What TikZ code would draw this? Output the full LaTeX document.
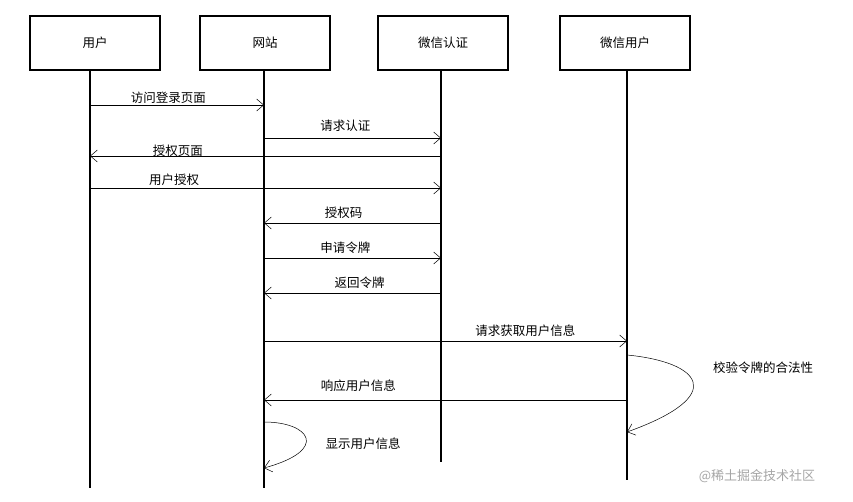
\documentclass[tikz,border=0pt]{standalone}
\usepackage{fontspec}
\newfontfamily\cjk{Noto Sans CJK SC}
\usetikzlibrary{arrows.meta}
\begin{document}
\begin{tikzpicture}[x=1pt,y=-1pt,
  box/.style={draw,line width=1.6pt,minimum width=130pt,minimum height=54pt,font=\cjk\fontsize{12.5}{14}\selectfont},
  life/.style={line width=1.6pt},
  msg/.style={-{Straight Barb[length=7pt,width=12pt]},line width=0.5pt},
  lbl/.style={font=\cjk\fontsize{12.5}{14}\selectfont,inner sep=1pt}]
\useasboundingbox (0,0) rectangle (853,502);
\fill[white] (0,0) rectangle (853,502);
\node[box] (u) at (95,43) {用户};
\node[box] (w) at (265,43) {网站};
\node[box] (a) at (443,43) {微信认证};
\node[box] (p) at (625,43) {微信用户};
\coordinate (ue) at (90,488); \coordinate (we) at (264,488);
\coordinate (ae) at (441,462); \coordinate (pe) at (627,480);
\draw[life] (u.south -| ue) -- (ue);
\draw[life] (w.south -| we) -- (we);
\draw[life] (a.south -| ae) -- (ae);
\draw[life] (p.south -| pe) -- (pe);
\foreach \y/\n in {105/a1,156/a3,188/a4}{\coordinate (u\n) at (90,\y);}
\foreach \y/\n in {105/a1,138/a2,223/a5,258/a6,293/a7,341/a8,400/a9}{\coordinate (w\n) at (264,\y);}
\foreach \y/\n in {138/a2,156/a3,188/a4,223/a5,258/a6,293/a7}{\coordinate (x\n) at (441,\y);}
\foreach \y/\n in {341/a8,400/a9}{\coordinate (p\n) at (627,\y);}
\draw[msg] (ua1) -- (wa1) node[lbl,pos=0.45,above=0pt] {访问登录页面};
\draw[msg] (wa2) -- (xa2) node[lbl,pos=0.46,above=5pt] {请求认证};
\draw[msg] (xa3) -- (ua3) node[lbl,pos=0.75,above=-2pt] {授权页面};
\draw[msg] (ua4) -- (xa4) node[lbl,pos=0.24,above=1pt] {用户授权};
\draw[msg] (xa5) -- (wa5) node[lbl,pos=0.55,above=3pt] {授权码};
\draw[msg] (wa6) -- (xa6) node[lbl,pos=0.46,above=3pt] {申请令牌};
\draw[msg] (xa7) -- (wa7) node[lbl,pos=0.46,above=3pt] {返回令牌};
\draw[msg] (wa8) -- (pa8) node[lbl,pos=0.72,above=3pt] {请求获取用户信息};
\draw[msg] (pa9) -- (wa9) node[lbl,pos=0.74,above=7pt] {响应用户信息};
\coordinate (s1) at (627,355); \coordinate (s2) at (627,432);
\draw[msg] (s1) .. controls (700,362) and (730,395) .. (s2);
\node[lbl] (l1) at (763,368) {校验令牌的合法性};
\coordinate (t1) at (264,422); \coordinate (t2) at (264,468);
\draw[msg] (t1) .. controls (310,422) and (330,450) .. (t2);
\node[lbl] (l2) at (363,444) {显示用户信息};
\node[font=\cjk\fontsize{13}{15}\selectfont,text=gray!70] (wm) at (757,476) {@稀土掘金技术社区};
\end{tikzpicture}
\end{document}
